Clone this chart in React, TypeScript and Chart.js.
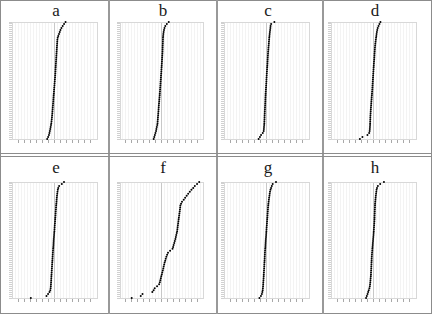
import React, { useEffect, useRef } from "react";
import { Chart, registerables } from "chart.js";
Chart.register(...registerables);

const panelLabels = ["a", "b", "c", "d", "e", "f", "g", "h"];

const seriesA = [
  -1.2, -1.05, -0.92, -0.83, -0.76, -0.7, -0.64, -0.58, -0.53, -0.49,
  -0.45, -0.42, -0.39, -0.36, -0.34, -0.31, -0.29, -0.26, -0.24, -0.21,
  -0.19, -0.16, -0.14, -0.11, -0.09, -0.07, -0.04, -0.01, 0.01, 0.04,
  0.06, 0.09, 0.11, 0.13, 0.15, 0.17, 0.19, 0.21, 0.23, 0.25,
  0.27, 0.29, 0.31, 0.33, 0.35, 0.37, 0.39, 0.41, 0.43, 0.45,
  0.47, 0.53, 0.62, 0.74, 0.86, 0.98, 1.14, 1.35, 1.58, 1.82,
];
const seriesB = [
  -1.32, -1.22, -1.12, -1.02, -0.92, -0.86, -0.79, -0.72, -0.67, -0.65,
  -0.62, -0.6, -0.57, -0.55, -0.52, -0.5, -0.47, -0.45, -0.42, -0.39,
  -0.37, -0.34, -0.31, -0.29, -0.26, -0.24, -0.22, -0.19, -0.17, -0.15,
  -0.12, -0.1, -0.08, -0.05, -0.03, -0.01, 0.01, 0.03, 0.05, 0.07,
  0.09, 0.11, 0.13, 0.15, 0.17, 0.18, 0.19, 0.2, 0.22, 0.23,
  0.24, 0.25, 0.27, 0.31, 0.36, 0.42, 0.51, 0.64, 0.9, 1.22,
];
const seriesC = [
  -1.3, -1.08, -0.9, -0.62, -0.46, -0.43, -0.41, -0.38, -0.36, -0.35,
  -0.33, -0.32, -0.31, -0.29, -0.28, -0.26, -0.25, -0.23, -0.22, -0.2,
  -0.19, -0.17, -0.15, -0.14, -0.12, -0.1, -0.08, -0.06, -0.04, -0.02,
  -0.01, 0.01, 0.03, 0.05, 0.07, 0.09, 0.11, 0.13, 0.15, 0.17,
  0.19, 0.21, 0.23, 0.25, 0.27, 0.3, 0.32, 0.35, 0.38, 0.4,
  0.43, 0.45, 0.48, 0.52, 0.56, 0.6, 0.64, 0.67, 0.76, 1.3,
];
const seriesD = [
  -2.24, -1.82, -1.0, -0.72, -0.64, -0.61, -0.59, -0.57, -0.56, -0.55,
  -0.53, -0.52, -0.5, -0.48, -0.46, -0.44, -0.42, -0.39, -0.37, -0.35,
  -0.32, -0.3, -0.27, -0.25, -0.23, -0.2, -0.18, -0.16, -0.14, -0.12,
  -0.1, -0.08, -0.06, -0.04, -0.02, 0.0, 0.02, 0.04, 0.06, 0.08,
  0.11, 0.13, 0.15, 0.17, 0.2, 0.22, 0.24, 0.27, 0.3, 0.34,
  0.38, 0.42, 0.46, 0.5, 0.56, 0.62, 0.7, 0.82, 0.98, 1.14,
];
const seriesE = [
  -3.9, -1.32, -1.06, -0.82, -0.7, -0.64, -0.61, -0.59, -0.57, -0.55,
  -0.53, -0.51, -0.49, -0.47, -0.45, -0.43, -0.41, -0.39, -0.37, -0.35,
  -0.33, -0.31, -0.29, -0.27, -0.25, -0.23, -0.21, -0.18, -0.16, -0.14,
  -0.12, -0.09, -0.07, -0.05, -0.02, 0.0, 0.02, 0.04, 0.07, 0.09,
  0.11, 0.13, 0.16, 0.18, 0.2, 0.23, 0.25, 0.27, 0.3, 0.33,
  0.35, 0.38, 0.41, 0.45, 0.49, 0.55, 0.62, 0.76, 1.2, 1.56,
];
const seriesF = [
  -5.03, -3.5, -3.2, -1.55, -1.33, -1.15, -0.75, -0.4, -0.28, -0.2,
  -0.12, -0.04, 0.05, 0.13, 0.22, 0.3, 0.37, 0.45, 0.53, 0.63,
  0.72, 0.82, 0.95, 1.1, 1.45, 1.86, 1.96, 2.05, 2.15, 2.25,
  2.34, 2.42, 2.49, 2.57, 2.64, 2.68, 2.72, 2.76, 2.8, 2.85,
  2.89, 2.93, 2.98, 3.02, 3.07, 3.11, 3.15, 3.18, 3.3, 3.46,
  3.75, 3.99, 4.25, 4.5, 4.78, 5.05, 5.35, 5.62, 6.0, 6.36,
];
const seriesG = [
  -1.16, -0.92, -0.76, -0.69, -0.63, -0.6, -0.57, -0.55, -0.53, -0.5,
  -0.48, -0.46, -0.45, -0.43, -0.41, -0.39, -0.37, -0.36, -0.34, -0.32,
  -0.3, -0.29, -0.27, -0.26, -0.24, -0.22, -0.19, -0.17, -0.15, -0.13,
  -0.11, -0.08, -0.06, -0.04, -0.02, 0.0, 0.02, 0.05, 0.07, 0.09,
  0.11, 0.14, 0.16, 0.18, 0.21, 0.23, 0.25, 0.28, 0.31, 0.35,
  0.39, 0.43, 0.48, 0.53, 0.58, 0.66, 0.75, 0.88, 1.02, 1.56,
];
const seriesH = [
  -1.22, -1.1, -0.98, -0.88, -0.78, -0.68, -0.61, -0.57, -0.53, -0.5,
  -0.47, -0.44, -0.42, -0.41, -0.39, -0.37, -0.36, -0.34, -0.33, -0.31,
  -0.3, -0.28, -0.26, -0.24, -0.21, -0.19, -0.16, -0.13, -0.11, -0.08,
  -0.06, -0.03, 0.0, 0.02, 0.04, 0.06, 0.08, 0.1, 0.12, 0.14,
  0.16, 0.17, 0.18, 0.2, 0.21, 0.22, 0.24, 0.25, 0.26, 0.29,
  0.32, 0.35, 0.38, 0.42, 0.46, 0.5, 0.58, 0.72, 1.1, 1.72,
];

const allSeries = [seriesA, seriesB, seriesC, seriesD, seriesE, seriesF, seriesG, seriesH];

const X_MIN = -7;
const X_MAX = 7;

// layout (not data)
const colLeft = [11, 119, 223, 330];
const colWidth = [90, 88, 90, 90];
const rowTop = [18, 178];
const rowHeight = [121, 120];
const titleTop = [2, 159];
const Y_TICK = 3;
const X_TICK = 4;

function Panel({ values, left, top, width, height }: { values: number[]; left: number; top: number; width: number; height: number }) {
  const ref = useRef<HTMLCanvasElement | null>(null);
  useEffect(() => {
    if (!ref.current) return;
    const n = values.length;
    const chart = new Chart(ref.current, {
      type: "scatter",
      data: {
        datasets: [
          {
            data: values.map((v, i) => ({ x: v, y: i + 1 })),
            pointRadius: 1.0,
            pointBackgroundColor: "#000",
            pointBorderWidth: 0,
            clip: false as any,
          },
        ],
      },
      options: {
        responsive: false,
        animation: false,
        events: [],
        layout: { padding: 0 },
        plugins: { legend: { display: false }, tooltip: { enabled: false }, title: { display: false } },
        scales: {
          x: {
            type: "linear",
            min: X_MIN,
            max: X_MAX,
            ticks: { display: false, stepSize: 0.5, maxTicksLimit: 1000 },
            grid: {
              color: (ctx: any) => {
                const v = ctx.tick?.value;
                if (v === 0) return "#c8c8c8";
                if (v === X_MIN || v === X_MAX) return "#d8d8d8";
                return "#f3f3f3";
              },
              tickColor: (ctx: any) => {
                const v = ctx.tick?.value;
                if (v === X_MIN || v === X_MAX) return "rgba(0,0,0,0)";
                return Number.isInteger(v) ? "#a8a8a8" : "rgba(0,0,0,0)";
              },
              tickLength: X_TICK,
            },
            border: { color: "#d8d8d8" },
          },
          y: {
            type: "linear",
            min: 1,
            max: n,
            ticks: { display: false, stepSize: 1, maxTicksLimit: 1000 },
            grid: {
              color: (ctx: any) => (ctx.tick?.value === n ? "#d8d8d8" : "rgba(0,0,0,0)"),
              tickColor: "#d0d0d0",
              tickLength: Y_TICK,
            },
            border: { color: "#d8d8d8" },
          },
        },
      },
    });
    return () => chart.destroy();
  }, [values]);
  const w = width + Y_TICK;
  const h = height + X_TICK;
  return (
    <canvas
      ref={ref}
      width={w}
      height={h}
      style={{ position: "absolute", left: left - Y_TICK, top, width: w, height: h }}
    />
  );
}

export default function App() {
  const lineColor = "#8c8c8c";
  return (
    <div style={{ position: "fixed", left: 0, top: 0, width: 432, height: 314, background: "#fff", overflow: "hidden" }}>
      <div style={{ position: "absolute", left: 0, top: 0, width: 430, height: 312, border: `1px solid ${lineColor}` }} />
      {[108, 216, 322].map((x) => (
        <div key={"v" + x} style={{ position: "absolute", left: x, top: 0, width: 2, height: 314, background: "#999" }} />
      ))}
      <div style={{ position: "absolute", left: 0, top: 153, width: 432, height: 1, background: lineColor }} />
      <div style={{ position: "absolute", left: 0, top: 156, width: 432, height: 1, background: lineColor }} />
      {allSeries.map((vals, idx) => {
        const c = idx % 4;
        const r = Math.floor(idx / 4);
        const left = colLeft[c];
        const width = colWidth[c];
        const cx = left + width / 2;
        return (
          <React.Fragment key={idx}>
            <div
              style={{
                position: "absolute",
                left: cx - 20,
                width: 40,
                top: titleTop[r],
                textAlign: "center",
                fontFamily: "'Liberation Serif', 'DejaVu Serif', serif",
                fontSize: 17,
                lineHeight: "18px",
                color: "#1a1a1a",
              }}
            >
              {panelLabels[idx]}
            </div>
            <Panel values={vals} left={left} top={rowTop[r]} width={width} height={rowHeight[r]} />
          </React.Fragment>
        );
      })}
    </div>
  );
}
